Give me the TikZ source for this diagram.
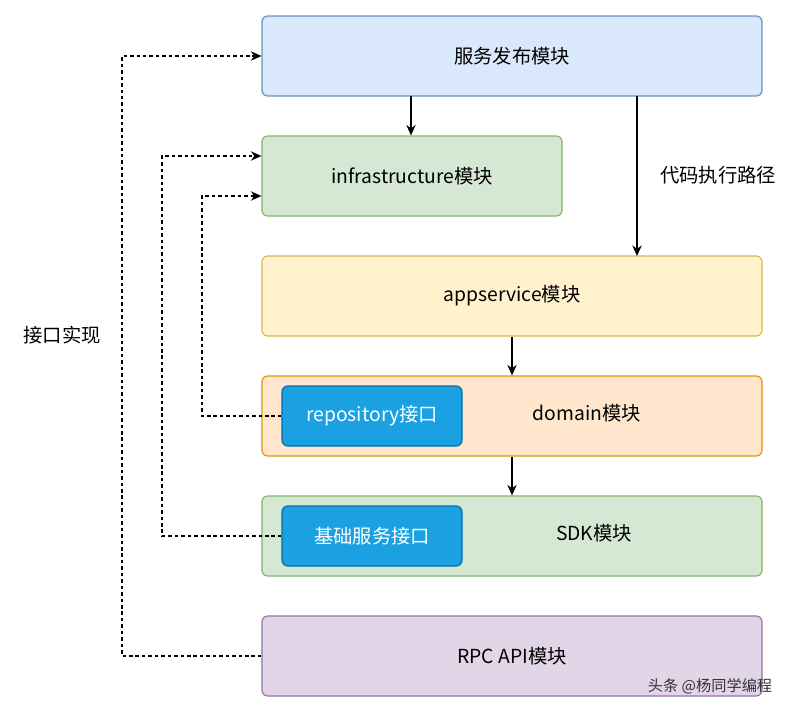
\documentclass[tikz,border=0pt]{standalone}
\usepackage{fontspec}
\setmainfont{Noto Sans CJK SC}
\usetikzlibrary{arrows.meta}
\definecolor{blueF}{HTML}{DAE8FC}\definecolor{blueD}{HTML}{6C8EBF}
\definecolor{greenF}{HTML}{D5E8D4}\definecolor{greenD}{HTML}{82B366}
\definecolor{yellowF}{HTML}{FFF2CC}\definecolor{yellowD}{HTML}{D6B656}
\definecolor{orangeF}{HTML}{FFE6CC}\definecolor{orangeD}{HTML}{D79B00}
\definecolor{purpleF}{HTML}{E1D5E7}\definecolor{purpleD}{HTML}{9673A6}
\definecolor{cyanF}{HTML}{1BA1E2}\definecolor{cyanD}{HTML}{006EAF}
\begin{document}
\begin{tikzpicture}[x=0.03cm,y=-0.03cm,
    every node/.style={font=\fontsize{16.5}{19}\selectfont},
    box/.style={draw,rounded corners=5pt,line width=1pt,minimum height=2.4cm},
    inner/.style={box,fill=cyanF,draw=cyanD,text=white,minimum width=5.4cm,minimum height=1.8cm},
    flow/.style={-{Stealth[length=9pt,width=8pt]},line width=1.1pt},
    impl/.style={flow,dash pattern=on 3pt off 2.5pt}]
    \useasboundingbox (0,0) rectangle (812,714);

    % Modules
    \node[box,fill=blueF,draw=blueD,minimum width=15cm] (pub) at (512,56) {服务发布模块};
    \node[box,fill=greenF,draw=greenD,minimum width=9cm] (infra) at (412,176) {infrastructure模块};
    \node[box,fill=yellowF,draw=yellowD,minimum width=15cm] (app) at (512,296) {appservice模块};
    \node[box,fill=orangeF,draw=orangeD,minimum width=15cm] (dom) at (512,416) {};
    \node at (587,413) {domain模块};
    \node[box,fill=greenF,draw=greenD,minimum width=15cm] (sdk) at (512,536) {};
    \node at (594,533) {SDK模块};
    \node[box,fill=purpleF,draw=purpleD,minimum width=15cm] (rpc) at (512,656) {RPC API模块};

    % Interfaces
    \node[inner] (repo) at (372,416) {repository接口};
    \node[inner] (base) at (372,536) {基础服务接口};

    % Execution path
    \coordinate (p1) at (637,96);
    \coordinate (p2) at (637,256);
    \draw[flow] (411,96) -- (infra.north -| 411,0);
    \draw[flow] (p1) -- (p2);
    \node at (718,175) {代码执行路径};
    \draw[flow] (app.south) -- (dom.north);
    \draw[flow] (dom.south) -- (sdk.north);

    % Implementations
    \coordinate (a1) at (122,656);
    \coordinate (a2) at (122,56);
    \coordinate (b1) at (162,536);
    \coordinate (b2) at (162,156);
    \coordinate (c1) at (202,416);
    \coordinate (c2) at (202,196);
    \draw[impl] (rpc.west) -- (a1) -- (a2) -- (pub.west);
    \draw[impl] (base.west) -- (b1) -- (b2) -- (infra.west |- b2);
    \draw[impl] (repo.west) -- (c1) -- (c2) -- (infra.west |- c2);
    \node[fill=white,inner sep=2pt] at (62,335) {接口实现};

    \node[font=\fontsize{13}{15}\selectfont,text=black!80] at (710,686) {头条 @杨同学编程};
\end{tikzpicture}
\end{document}
